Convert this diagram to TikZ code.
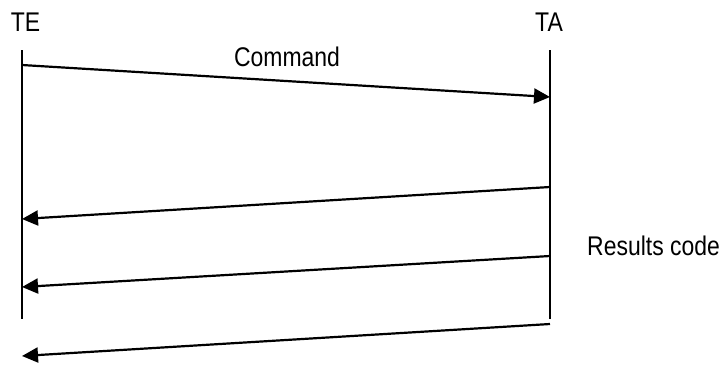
\documentclass[tikz,border=0pt]{standalone}
\usepackage{fontspec}
\setmainfont{Liberation Sans}[FakeStretch=0.85]
\usetikzlibrary{arrows.meta,positioning}

\begin{document}
\begin{tikzpicture}[x=1pt,y=-1pt,>={Triangle[length=16pt,width=15pt]},
	Msg/.style={->,black,line width=2.2pt},
	Life/.style={black,line width=1.6pt},
	Name/.style={font=\fontsize{27pt}{30pt}\selectfont,inner sep=0pt},
]
	\useasboundingbox (0,0) rectangle (722,365);

	\node[Name] (TE) at (25.5,22){TE};
	\node[Name] (TA) at (549,22){TA};
	\node[Name] (Cmd) at (287,57){Command};
	\node[Name,anchor=west] (Res) at (587,246){Results code};

	% lifelines
	\coordinate (TEtop) at (22,50);
	\coordinate (TEbot) at (22,319);
	\coordinate (TAtop) at (550,50);
	\coordinate (TAbot) at (550,319);
	\draw[Life] (TEtop) -- (TEbot);
	\draw[Life] (TAtop) -- (TAbot);

	% messages
	\coordinate (C1) at (22,65);
	\coordinate (C2) at (550,97);
	\draw[Msg] (C1) -- (C2);

	\coordinate (R1a) at (550,187);
	\coordinate (R1b) at (22,219);
	\coordinate (R2a) at (550,256);
	\coordinate (R2b) at (22,287);
	\coordinate (R3a) at (550,324);
	\coordinate (R3b) at (22,356);
	\draw[Msg] (R1a) -- (R1b);
	\draw[Msg] (R2a) -- (R2b);
	\draw[Msg] (R3a) -- (R3b);
\end{tikzpicture}
\end{document}
